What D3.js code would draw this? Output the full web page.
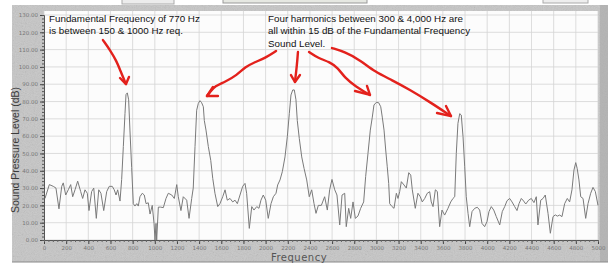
<!DOCTYPE html>
<html><head><meta charset="utf-8">
<script src="https://cdn.jsdelivr.net/npm/d3@7"></script>
<style>html,body{margin:0;padding:0;background:#fff;}svg{display:block;}</style>
</head><body>
<script>
// ---- data ----
const freqHz = [9,48,84,108,135,160,174,196,219,241,259,280,304,331,349,370,391,406,430,449,472,494,514,539,566,589,616,634,650,665,686,
701,716,731,740,752,764,776,791,806,821,837,851,866,887,905,921,941,957,977,993,1002,1011,1017,1032,1053,1077,1101,1122,1153,1176,1198,1212,1236,1257,1288,1309,1333,1347,
1363,1378,1393,1408,1423,1438,1447,1462,1483,1505,1523,1543,1568,1588,1613,1634,1654,1679,1703,1724,1745,1769,1793,1814,1829,1853,1875,1895,1920,1940,1958,1979,2001,2024,2049,2070,2094,2109,2130,2151,
2175,2196,2214,2229,2245,2259,2274,2286,2304,2326,2347,2371,2394,2416,2437,2455,2476,2503,2533,2557,2578,2599,2624,2644,2669,2690,2714,2728,2750,2768,2789,2810,2834,2858,2885,
2903,2924,2945,2963,2978,2999,3021,3039,3053,3069,3084,3098,3111,3120,3141,3159,3180,3195,3210,3225,3249,3270,3292,3310,3324,3351,3375,3396,3414,3436,3459,3481,3495,3511,3532,3550,3571,3592,3616,3646,3671,3691,3707,
3721,3736,3752,3766,3782,3797,3811,3827,3842,3863,3887,3911,3932,3953,3977,3998,4016,4037,4059,4082,4113,4136,4158,4179,4203,4224,4248,4269,4287,4308,4329,4348,4374,4398,4422,4443,4458,4483,4504,4524,4549,4570,4594,4615,4633,4654,4675,4699,4723,4744,4765,4783,4799,4812,4828,4844,4865,4889,4910,4934,4955,4976,5000];
const levelDb = [24,32,31,30,18,31,33,26,29,32,25,29,34,28,24,29,27,17,28,30,12.5,29,27,17,28,31,31,29,26,29,22.5,
35,54,73,84,85,81,63,42,21,19.6,21,19.6,25,27,26,21,21.5,15,20,9.6,0,9.6,0,19,19,18.7,24,27,26,24,32,25,17,25,23,12.5,24,30,
54,75,79,80.5,79.3,77,69,63.5,54,46,35.6,27,19.3,21,25,29,23,24,22,23,21,26,31,32.7,27,6.7,19.3,17.3,19.3,18.3,23,26,23,12.5,21,25,27,31.8,34.7,39.5,
48,59.7,73,83.8,86.7,86.7,81,69,58.7,48,41.4,34.7,25,29,21,15.4,20,20,25,17.3,29,35,29,26,8.7,26,27,7.7,18.3,12.5,22,12.5,13.9,18.3,22,
36.6,50,63.5,71,78,79.5,79.3,77,71,63.5,52,42.3,32.7,21,19.3,18.3,27,24,27.9,33.7,31.8,30,38.9,37.5,29,18.3,27,25,22,24,27,27.9,22,19.3,29,28,7.7,17.3,14.4,18.3,22,24,25,
50,67.4,73,72.2,59.7,42.3,25,15.4,7.7,16.4,18.3,18.9,17.3,9.6,7.7,10.6,16.4,19.3,17.3,13.5,8.7,16.4,19.3,22.7,24,22,19.3,17,21,24,22.5,20.8,23,24,21.6,25,8.7,23,24,26,15.4,3.9,13.5,14.5,13.8,14.4,13.5,21,24,22,29,40.4,44.7,41.4,34.7,25,24,12.5,21,27,30.4,28,20];
const xTicks = d3.range(0, 5001, 200);
const yTicks = d3.range(0, 131, 10);
const xTitle = "Frequency";
const yTitle = "Sound Pressure Level (dB)";
const note1 = ["Fundamental Frequency of 770 Hz", "is between 150 & 1000 Hz req."];
const note2 = ["Four harmonics between 300 & 4,000 Hz are", "all within 15 dB of the Fundamental Frequency", "Sound Level."];
// hand-drawn arrows, in data units [Hz, dB]: shaft then head wings
const arrows = [
  {shaft:[[532,115.5],[596,109.8],[659,102.8],[686,98.2],[740,90.1]], head:[[686,93.6],[740,90.1],[767,94.2]]},
  {shaft:[[2094,109.2],[1995,105.1],[1904,102.8],[1814,99.9],[1742,95.3],[1634,91.3],[1543,89],[1498,85.5],[1471,83.2]], head:[[1525,88.4],[1471,83.2],[1570,83.2]]},
  {shaft:[[2292,108.6],[2283,101.1],[2265,91.3]], head:[[2229,95.3],[2265,91.3],[2310,95.3]]},
  {shaft:[[2392,108.6],[2473,105.1],[2581,102.8],[2653,99.4],[2717,93.6],[2807,89],[2942,83.8]], head:[[2807,86.1],[2942,83.8],[2915,89]]},
  {shaft:[[2599,110.9],[2717,108.6],[2852,104],[2987,97.1],[3141,92.4],[3303,86.7],[3484,79.7],[3673,71.6]], head:[[3547,73.4],[3673,71.6],[3628,77.4]]}
];

// ---- drawing ----
const W = 613, H = 269;
const svg = d3.select("body").append("svg").attr("width", W).attr("height", H);
const defs = svg.append("defs");
const f = defs.append("filter").attr("id","noise").attr("x",0).attr("y",0).attr("width","100%").attr("height","100%");
f.append("feTurbulence").attr("type","fractalNoise").attr("baseFrequency",0.9).attr("numOctaves",2).attr("seed",3);
f.append("feColorMatrix").attr("type","saturate").attr("values",0);

const x = d3.scaleLinear().domain([0,5000]).range([44,598]);
const y = d3.scaleLinear().domain([0,130]).range([240,15]);

// top toolbar remnants
svg.append("rect").attr("x",122).attr("y",-8).attr("width",52).attr("height",12).attr("fill","#ececec").attr("stroke","#aaa");
svg.append("rect").attr("x",223).attr("y",-8).attr("width",144).attr("height",11).attr("fill","#e6e8e2").attr("stroke","#999");
svg.append("rect").attr("x",543).attr("y",-8).attr("width",45).attr("height",11).attr("fill","#eee").attr("stroke","#aaa");

// frame
svg.append("rect").attr("x",12).attr("y",5).attr("width",596).attr("height",257).attr("fill","#c6c6c6");
svg.append("rect").attr("x",12).attr("y",5).attr("width",596).attr("height",257).attr("filter","url(#noise)").attr("opacity",0.28);
svg.append("rect").attr("x",600).attr("y",5).attr("width",8).attr("height",257).attr("fill","#a8a8a8").attr("opacity",0.6);
svg.append("line").attr("x1",12).attr("x2",608).attr("y1",262).attr("y2",262).attr("stroke","#8a8a8a");
svg.append("rect").attr("x",44).attr("y",11).attr("width",554).attr("height",229).attr("fill","#fcfcfc");

// grid
const g = svg.append("g");
g.selectAll(".vg").data(xTicks).join("line")
  .attr("x1",d=>x(d)).attr("x2",d=>x(d)).attr("y1",11).attr("y2",240)
  .attr("stroke","#d4d4d4").attr("stroke-width",0.8);
g.selectAll(".hg").data(yTicks).join("line")
  .attr("x1",44).attr("x2",598).attr("y1",d=>y(d)).attr("y2",d=>y(d))
  .attr("stroke","#d4d4d4").attr("stroke-width",0.8);

// axes
const yAxis = d3.axisLeft(y).tickValues(yTicks).tickFormat(d3.format(".2f")).tickSize(4).tickPadding(2);
const ya = svg.append("g").attr("transform","translate(44,0)").call(yAxis);
ya.select(".domain").attr("stroke","#555");
ya.selectAll(".tick line").attr("stroke","#444");
ya.selectAll("text").attr("fill","#777").attr("font-family","DejaVu Sans").attr("font-size","5.5px");
const yMinor = d3.axisLeft(y).tickValues(d3.range(0,131,2)).tickFormat("").tickSize(2);
svg.append("g").attr("transform","translate(44,0)").call(yMinor)
  .call(s=>s.select(".domain").remove()).selectAll("line").attr("stroke","#555");

const xAxis = d3.axisBottom(x).tickValues(xTicks).tickFormat(d3.format("d")).tickSize(4).tickPadding(2);
const xa = svg.append("g").attr("transform","translate(0,240)").call(xAxis);
xa.select(".domain").attr("stroke","#555");
xa.selectAll(".tick line").attr("stroke","#444");
xa.selectAll("text").attr("fill","#777").attr("font-family","DejaVu Sans").attr("font-size","5.5px");
const xMinor = d3.axisBottom(x).tickValues(d3.range(0,5001,40)).tickFormat("").tickSize(2);
svg.append("g").attr("transform","translate(0,240)").call(xMinor)
  .call(s=>s.select(".domain").remove()).selectAll("line").attr("stroke","#666");

svg.append("text").attr("x",299).attr("y",261).attr("text-anchor","middle")
  .attr("font-family","DejaVu Sans").attr("font-size","10px").attr("letter-spacing","0.5px").attr("fill","#555").text(xTitle);
svg.append("text").attr("transform","translate(19,150) rotate(-90)").attr("text-anchor","middle")
  .attr("font-family","Liberation Sans").attr("font-size","10.5px").attr("fill","#3a3a3a").text(yTitle);

// trace
const pts = freqHz.map((h,i)=>[h, levelDb[i]]);
svg.append("path").datum(pts)
  .attr("d", d3.line().x(d=>x(d[0])).y(d=>y(d[1])))
  .attr("fill","none").attr("stroke","#7a7a7a").attr("stroke-width",1).attr("stroke-linejoin","round");

// annotations
const t1 = svg.append("text").attr("font-family","Liberation Sans").attr("font-size","9.8px").attr("fill","#111");
note1.forEach((s,i)=>t1.append("tspan").attr("x",49).attr("y",21.5+i*12.5).text(s));
const t2 = svg.append("text").attr("font-family","Liberation Sans").attr("font-size","9.8px").attr("fill","#111");
note2.forEach((s,i)=>t2.append("tspan").attr("x",268).attr("y",21.5+i*12.5).text(s));

const ln = d3.line().x(d=>x(d[0])).y(d=>y(d[1])).curve(d3.curveBasis);
const ln2 = d3.line().x(d=>x(d[0])).y(d=>y(d[1]));
arrows.forEach(a=>{
  svg.append("path").attr("d",ln(a.shaft)).attr("fill","none").attr("stroke","#e3211c").attr("stroke-width",2.4).attr("stroke-linecap","round");
  svg.append("path").attr("d",ln2(a.head)).attr("fill","none").attr("stroke","#e3211c").attr("stroke-width",2.4).attr("stroke-linecap","round").attr("stroke-linejoin","round");
});
</script>
</body></html>
